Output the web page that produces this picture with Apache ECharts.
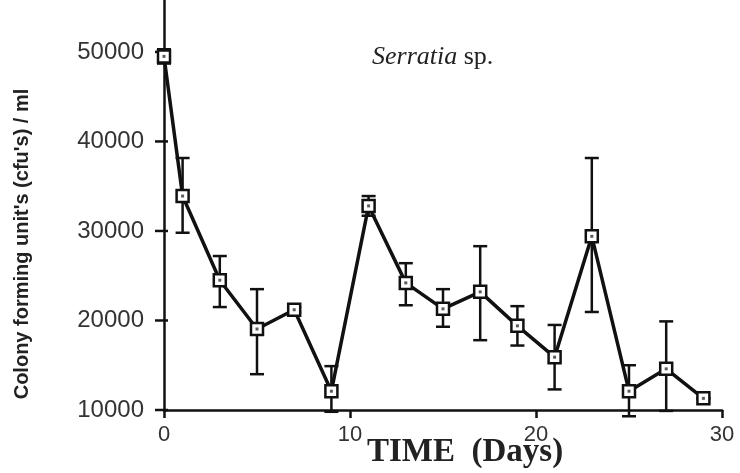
<!DOCTYPE html>
<html>
<head>
<meta charset="utf-8">
<script src="https://cdn.jsdelivr.net/npm/echarts@6/dist/echarts.min.js"></script>
<style>html,body{margin:0;padding:0;background:#fff}#c{width:740px;height:473px}</style>
</head>
<body>
<div id="c"></div>
<script>
// Data
const days = [0, 1, 3, 5, 7, 9, 11, 13, 15, 17, 19, 21, 23, 25, 27, 29];
const cfu = [49500, 33900, 24500, 19050, 21200, 12100, 32800, 24200, 21300, 23200, 19400, 15900, 29400, 12100, 14600, 11300];
const errHigh = [50300, 38150, 27200, 23500, 21500, 14900, 33900, 26400, 23500, 28300, 21600, 19500, 38150, 15000, 19900, 11300];
const errLow = [48700, 29800, 21500, 14000, 20900, 9800, 31700, 21700, 19300, 17800, 17200, 12300, 20950, 9300, 9900, 11300];
const yTicks = [10000, 20000, 30000, 40000, 50000];
const xTicks = [0, 10, 20, 30];

const points = days.map((d, i) => [d, cfu[i]]);
const bars = days.map((d, i) => [d, errLow[i], errHigh[i]]);
const yTickData = yTicks.map(v => [0, v]);

const chart = echarts.init(document.getElementById('c'));
chart.setOption({
  animation: false,
  backgroundColor: '#fff',
  grid: { left: 164, right: 18, top: 0, bottom: 63 },
  xAxis: {
    type: 'value', min: 0, max: 30, interval: 10,
    axisLine: { show: true, lineStyle: { color: '#111', width: 2.5 } },
    axisTick: { show: true, length: 8, lineStyle: { color: '#111', width: 2.5 } },
    axisLabel: { color: '#333', fontSize: 22, fontFamily: 'Liberation Sans, Arial', margin: 14,
      customValues: xTicks, formatter: v => String(v) },
    splitLine: { show: false }
  },
  yAxis: {
    type: 'value', min: 10000, max: 55800, interval: 10000,
    axisLine: { show: true, lineStyle: { color: '#111', width: 2.5 } },
    axisTick: { show: false },
    axisLabel: { color: '#333', fontSize: 24, fontFamily: 'Liberation Sans, Arial', margin: 20,
      showMaxLabel: false, formatter: v => (yTicks.indexOf(v) >= 0 ? String(v) : '') },
    splitLine: { show: false }
  },
  graphic: [
    { type: 'text', x: 22, y: 244, rotation: Math.PI / 2,
      style: { text: "Colony forming unit's (cfu's) / ml", fill: '#222', align: 'center', verticalAlign: 'middle',
        font: 'bold 20px "Liberation Sans", Arial, sans-serif' } },
    { type: 'text', left: 372, top: 44,
      style: { text: '{i|Serratia} sp.', fill: '#222', font: '26px "Liberation Serif", "Times New Roman", serif',
        rich: { i: { fontStyle: 'italic', fontSize: 26, fontFamily: 'Liberation Serif', fill: '#222' } } } },
    { type: 'text', left: 367, top: 436,
      style: { text: 'TIME  (Days)', fill: '#222', font: 'bold 33px "Liberation Serif", "Times New Roman", serif' } }
  ],
  series: [
    {
      type: 'custom', z: 1, data: yTickData, silent: true,
      renderItem: function (params, api) {
        const p = api.coord([api.value(0), api.value(1)]);
        return { type: 'line', shape: { x1: p[0] - 9, y1: p[1], x2: p[0] + 4, y2: p[1] },
          style: { stroke: '#111', lineWidth: 2.5 } };
      }
    },
    {
      type: 'custom', z: 1, data: bars,
      renderItem: function (params, api) {
        const x = api.value(0);
        const lo = api.coord([x, api.value(1)]);
        const hi = api.coord([x, api.value(2)]);
        const w = 7;
        const st = { stroke: '#111', lineWidth: 2.5, fill: null };
        return { type: 'group', children: [
          { type: 'line', shape: { x1: lo[0], y1: lo[1], x2: hi[0], y2: hi[1] }, style: st },
          { type: 'line', shape: { x1: hi[0] - w, y1: hi[1], x2: hi[0] + w, y2: hi[1] }, style: st },
          { type: 'line', shape: { x1: lo[0] - w, y1: lo[1], x2: lo[0] + w, y2: lo[1] }, style: st }
        ] };
      }
    },
    {
      type: 'line', z: 2, data: points,
      symbol: 'rect', symbolSize: 12, showAllSymbol: true,
      lineStyle: { color: '#111', width: 3.5 },
      itemStyle: { color: '#fff', borderColor: '#111', borderWidth: 2.5 }
    },
    {
      type: 'scatter', z: 3, data: points, symbol: 'rect', symbolSize: 3,
      itemStyle: { color: '#333' }
    }
  ]
});
</script>
</body>
</html>
